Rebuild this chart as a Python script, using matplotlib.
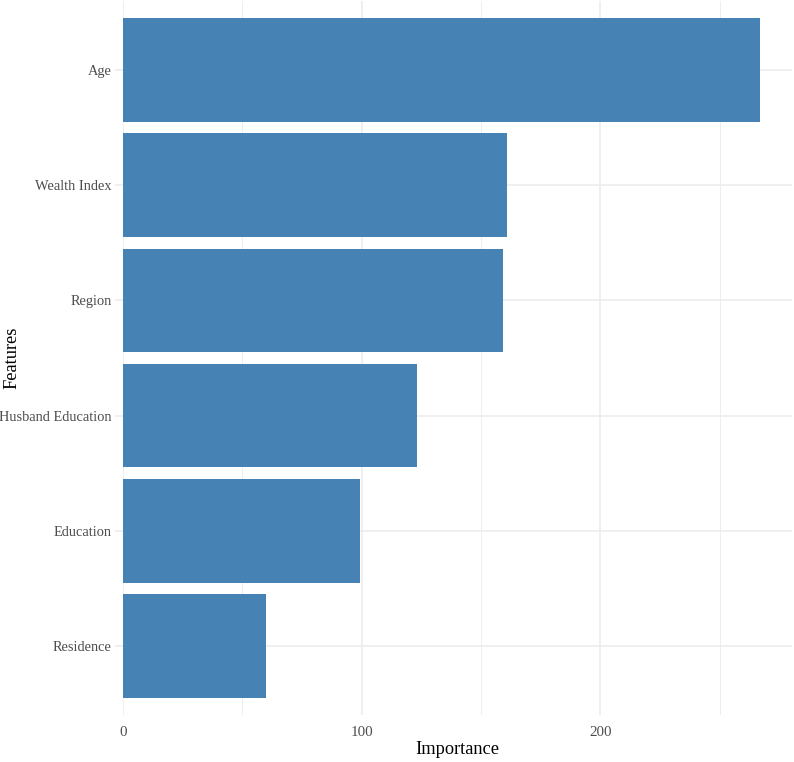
import matplotlib
matplotlib.use("Agg")
import matplotlib.pyplot as plt
from matplotlib.ticker import MultipleLocator

features = ["Age", "Wealth Index", "Region", "Husband Education", "Education", "Residence"]
importance = [267, 161, 159.4, 123, 99.5, 59.8]

plt.rcParams['font.family'] = ['Liberation Serif', 'DejaVu Serif']

W, H = 794, 762
fig = plt.figure(figsize=(W / 100, H / 100), dpi=100)
left, right, top, bottom = 123, 792, 1, 715
ax = fig.add_axes([left / W, (H - bottom) / H, (right - left) / W, (bottom - top) / H])

n = len(features)
ypos = list(range(n))[::-1]
ax.barh(ypos, importance, height=0.9, color='#4682B4', zorder=2)

xmax = max(importance)
ax.set_xlim(0, xmax * 1.05)
ax.set_ylim(-0.6, n - 1 + 0.6)

ax.set_yticks(ypos)
ax.set_yticklabels(features)
ax.xaxis.set_major_locator(MultipleLocator(100))
ax.xaxis.set_minor_locator(MultipleLocator(50))

ax.grid(True, which='major', color='#EBEBEB', linewidth=1.1, zorder=0)
ax.grid(True, which='minor', axis='x', color='#EBEBEB', linewidth=0.6, zorder=0)
ax.set_axisbelow(True)

for s in ax.spines.values():
    s.set_visible(False)

ax.tick_params(axis='x', which='both', length=0, pad=8, labelsize=10.8, labelcolor='#4D4D4D')
ax.tick_params(axis='y', which='major', length=6, width=1.1, color='#EBEBEB', pad=2,
               labelsize=10.4, labelcolor='#4D4D4D')

ax.set_xlabel('Importance', fontsize=13.2, color='black', labelpad=1)
fig.text(12 / W, 1 - 358 / H, 'Features', rotation=90, fontsize=13.2, color='black',
         ha='center', va='center')

fig.savefig('out.png', dpi=100)
